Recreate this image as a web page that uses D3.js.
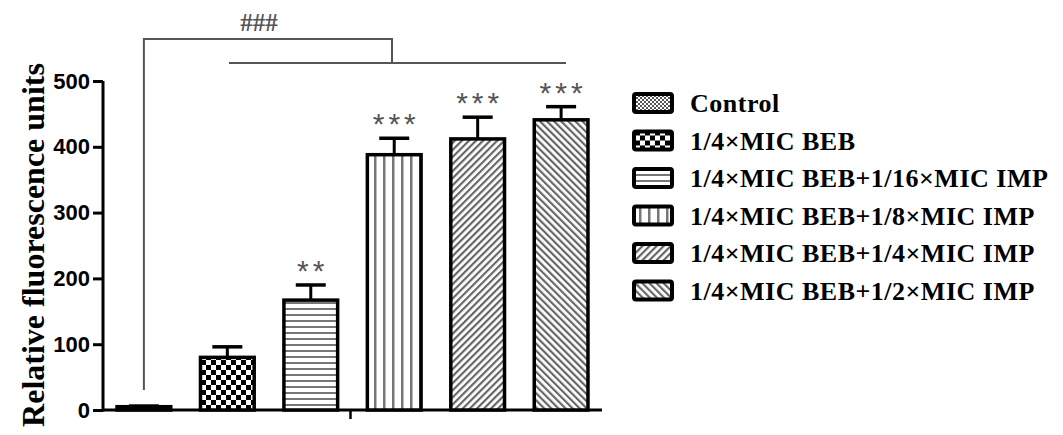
<!DOCTYPE html>
<html>
<head>
<meta charset="utf-8">
<script src="https://cdn.jsdelivr.net/npm/d3@7"></script>
<style>
  body { margin: 0; background: #fff; }
</style>
</head>
<body>
<script>
// groups, means and upper error values
var groups = ["Control", "1/4×MIC BEB", "1/4×MIC BEB+1/16×MIC IMP",
              "1/4×MIC BEB+1/8×MIC IMP", "1/4×MIC BEB+1/4×MIC IMP", "1/4×MIC BEB+1/2×MIC IMP"];
var means = [5, 80, 167, 388, 412, 441];
var errs = [1, 16, 23, 25, 33, 20];
var stars = ["", "", "**", "***", "***", "***"];
var yTicks = [0, 100, 200, 300, 400, 500];
var patterns = ["fine", "checker", "hlines", "vlines", "fwd", "back"];

var width = 1063, height = 435;

var svg = d3.select("body").append("svg")
    .attr("width", width)
    .attr("height", height);

// pattern fills
var defs = svg.append("defs");

var p = defs.append("pattern").attr("id", "fine").attr("patternUnits", "userSpaceOnUse")
    .attr("width", 4).attr("height", 4);
p.append("rect").attr("width", 4).attr("height", 4).attr("fill", "#fff");
p.append("rect").attr("width", 2).attr("height", 2).attr("fill", "#555");
p.append("rect").attr("x", 2).attr("y", 2).attr("width", 2).attr("height", 2).attr("fill", "#555");

p = defs.append("pattern").attr("id", "checker").attr("patternUnits", "userSpaceOnUse")
    .attr("width", 10).attr("height", 10).attr("x", 1).attr("y", 0);
p.append("rect").attr("width", 10).attr("height", 10).attr("fill", "#fff");
p.append("rect").attr("width", 5).attr("height", 5).attr("fill", "#000");
p.append("rect").attr("x", 5).attr("y", 5).attr("width", 5).attr("height", 5).attr("fill", "#000");

p = defs.append("pattern").attr("id", "hlines").attr("patternUnits", "userSpaceOnUse")
    .attr("width", 6).attr("height", 6);
p.append("rect").attr("width", 6).attr("height", 6).attr("fill", "#fff");
p.append("rect").attr("y", 2).attr("width", 6).attr("height", 2).attr("fill", "#777");

p = defs.append("pattern").attr("id", "vlines").attr("patternUnits", "userSpaceOnUse")
    .attr("width", 9).attr("height", 9).attr("x", 2);
p.append("rect").attr("width", 9).attr("height", 9).attr("fill", "#fff");
p.append("rect").attr("x", 3).attr("width", 2.5).attr("height", 9).attr("fill", "#777");

p = defs.append("pattern").attr("id", "fwd").attr("patternUnits", "userSpaceOnUse")
    .attr("width", 5).attr("height", 5).attr("patternTransform", "rotate(45)");
p.append("rect").attr("width", 5).attr("height", 5).attr("fill", "#fff");
p.append("rect").attr("width", 2.2).attr("height", 5).attr("fill", "#666");

p = defs.append("pattern").attr("id", "back").attr("patternUnits", "userSpaceOnUse")
    .attr("width", 5).attr("height", 5).attr("patternTransform", "rotate(-45)");
p.append("rect").attr("width", 5).attr("height", 5).attr("fill", "#fff");
p.append("rect").attr("width", 2.2).attr("height", 5).attr("fill", "#666");

// scales
var x = d3.scaleBand()
    .domain(groups)
    .range([103, 602])
    .paddingInner(0.32)
    .paddingOuter(0.15);

var y = d3.scaleLinear()
    .domain([0, 500])
    .range([410, 81]);

// y axis
var yAxis = svg.append("g")
    .attr("transform", "translate(103,0)")
    .call(d3.axisLeft(y).tickValues(yTicks).tickSize(10).tickSizeOuter(0));
yAxis.select(".domain").attr("stroke", "#000").attr("stroke-width", 3)
    .attr("d", "M0," + (y(0) + 1.5) + "V" + y(500));
yAxis.selectAll(".tick line").attr("stroke-width", 3);
yAxis.selectAll(".tick text")
    .attr("x", -13)
    .style("font-family", "Liberation Sans, Arial, sans-serif")
    .style("font-weight", "bold")
    .style("font-size", "22px")
    .attr("fill", "#000");

// x axis (single centred tick)
svg.append("line")
    .attr("x1", 103).attr("x2", 602)
    .attr("y1", y(0)).attr("y2", y(0))
    .attr("stroke", "#000").attr("stroke-width", 3);
svg.append("line")
    .attr("x1", (103 + 602) / 2 - 2).attr("x2", (103 + 602) / 2 - 2)
    .attr("y1", y(0)).attr("y2", y(0) + 9)
    .attr("stroke", "#000").attr("stroke-width", 2.5);

// y title
svg.append("text")
    .attr("transform", "translate(44,245) rotate(-90)")
    .attr("text-anchor", "middle")
    .style("font-family", "Liberation Serif, Times New Roman, serif")
    .style("font-weight", "bold")
    .style("font-size", "32px")
    .text("Relative fluorescence units");

// error bars
var eb = svg.selectAll(".err").data(groups).enter().append("g");
eb.append("line")
    .attr("x1", function(d) { return x(d) + x.bandwidth() / 2; })
    .attr("x2", function(d) { return x(d) + x.bandwidth() / 2; })
    .attr("y1", function(d, i) { return y(means[i]); })
    .attr("y2", function(d, i) { return y(means[i] + errs[i]); })
    .attr("stroke", "#000").attr("stroke-width", 3);
eb.append("line")
    .attr("x1", function(d) { return x(d) + x.bandwidth() / 2 - 15; })
    .attr("x2", function(d) { return x(d) + x.bandwidth() / 2 + 15; })
    .attr("y1", function(d, i) { return y(means[i] + errs[i]); })
    .attr("y2", function(d, i) { return y(means[i] + errs[i]); })
    .attr("stroke", "#000").attr("stroke-width", 3.5);

// bars
svg.selectAll(".bar").data(groups).enter().append("rect")
    .attr("x", function(d) { return x(d) + 1.5; })
    .attr("width", x.bandwidth() - 3)
    .attr("y", function(d, i) { return y(means[i]); })
    .attr("height", function(d, i) { return y(0) - y(means[i]); })
    .attr("fill", function(d, i) { return "url(#" + patterns[i] + ")"; })
    .attr("stroke", "#000")
    .attr("stroke-width", 3.5);

// stars
svg.selectAll(".star").data(groups).enter().append("text")
    .attr("x", function(d) { return x(d) + x.bandwidth() / 2 + 2; })
    .attr("y", function(d, i) { return y(means[i] + errs[i]) - 4; })
    .attr("text-anchor", "middle")
    .style("font-family", "Liberation Sans, Arial, sans-serif")
    .style("font-size", "30px")
    .style("letter-spacing", "4px")
    .attr("fill", "#555")
    .text(function(d, i) { return stars[i]; });

// significance bracket: control vs treatments
var cx0 = x(groups[0]) + x.bandwidth() / 2;
var bracket = svg.append("g").attr("stroke", "#555").attr("stroke-width", 2).attr("fill", "none");
bracket.append("path")
    .attr("d", "M" + cx0 + "," + (y(0) - 20) + "V39H392V63");
bracket.append("line")
    .attr("x1", 229).attr("x2", 566).attr("y1", 63).attr("y2", 63);
svg.append("text")
    .attr("x", 259).attr("y", 31)
    .attr("text-anchor", "middle")
    .style("font-family", "Liberation Serif, Times New Roman, serif")
    .style("font-size", "25px")
    .style("font-weight", "bold")
    .attr("fill", "#555")
    .text("###");

// legend
var legend = svg.selectAll(".leg").data(groups).enter().append("g")
    .attr("transform", function(d, i) { return "translate(634," + (103 + i * 37.5) + ")"; });
legend.append("rect")
    .attr("x", 0).attr("y", -9)
    .attr("width", 38).attr("height", 18)
    .attr("rx", 2)
    .attr("fill", function(d, i) { return "url(#" + patterns[i] + ")"; })
    .attr("stroke", "#000").attr("stroke-width", 4);
legend.append("text")
    .attr("x", 56).attr("y", 9)
    .style("font-family", "Liberation Serif, Times New Roman, serif")
    .style("font-weight", "bold")
    .style("font-size", "26px")
    .style("letter-spacing", "0.5px")
    .text(function(d) { return d; });
</script>
</body>
</html>
